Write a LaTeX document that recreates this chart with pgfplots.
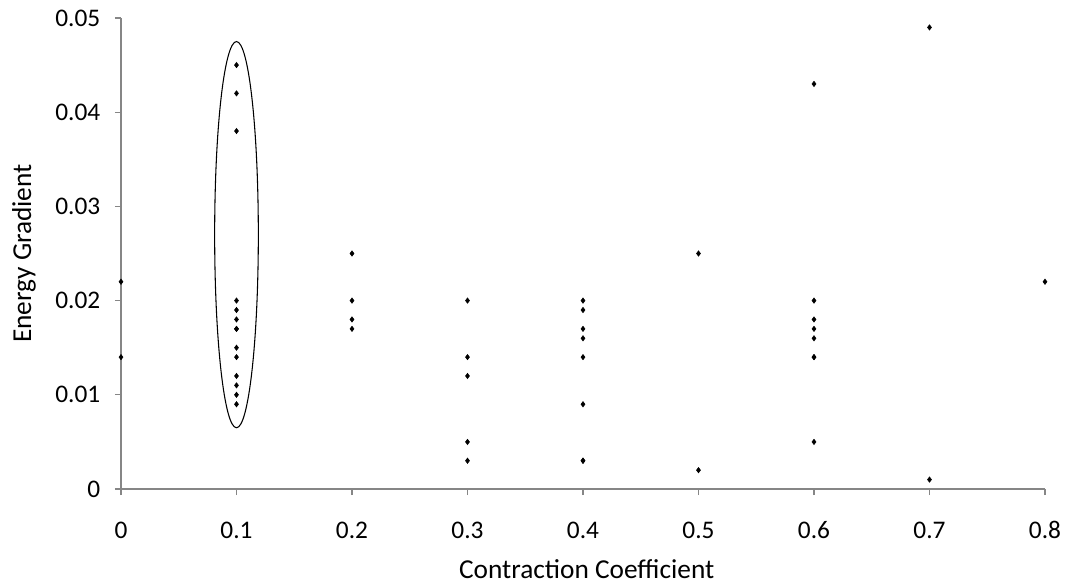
\documentclass[border=0pt]{standalone}
\usepackage{pgfplots}
\pgfplotsset{compat=1.18}
\usepackage{fontspec}
\setmainfont{Carlito}
\definecolor{axgray}{HTML}{868686}
\begin{document}
\fontsize{19pt}{23pt}\selectfont
\begin{tikzpicture}[x=1pt,y=1pt]
\useasboundingbox (-90.75,-73.5) rectangle (712.5,366.75);
\begin{axis}[
  at={(0,0)}, anchor=south west,
  scale only axis, width=693pt, height=353.25pt,
  xmin=0, xmax=0.8, ymin=0, ymax=0.05,
  scaled y ticks=false, scaled x ticks=false,
  axis x line=bottom, axis y line=left,
  axis line style={draw=axgray, line width=1.2pt, -},
  tick align=outside, major tick length=4.5pt,
  tick style={draw=axgray, line width=1pt},
  xtick={0,0.1,0.2,0.3,0.4,0.5,0.6,0.7,0.8},
  xticklabels={0,0.1,0.2,0.3,0.4,0.5,0.6,0.7,0.8},
  ytick={0,0.01,0.02,0.03,0.04,0.05},
  yticklabels={0,0.01,0.02,0.03,0.04,0.05},
  xticklabel style={font=\fontsize{19pt}{23pt}\selectfont, text height=0.64em, text depth=0pt, yshift=-14pt},
  yticklabel style={font=\fontsize{19pt}{23pt}\selectfont, xshift=-4.5pt},
  xlabel={Contraction Coefficient},
  ylabel={Energy Gradient},
  every axis x label/.style={at={(axis description cs:0.504,-0.17)}, anchor=center, font=\fontsize{20.5pt}{24pt}\selectfont},
  every axis y label/.style={at={(axis description cs:-0.105,0.5)}, rotate=90, anchor=center, font=\fontsize{20.5pt}{24pt}\selectfont},
  clip=false,
]
\addplot[only marks, mark=diamond*, mark size=2pt, black] coordinates {
(0,0.022) (0,0.014)
(0.1,0.045) (0.1,0.042) (0.1,0.038) (0.1,0.020) (0.1,0.019) (0.1,0.018) (0.1,0.017) (0.1,0.017) (0.1,0.015) (0.1,0.014) (0.1,0.012) (0.1,0.011) (0.1,0.010) (0.1,0.009)
(0.2,0.025) (0.2,0.020) (0.2,0.018) (0.2,0.017)
(0.3,0.020) (0.3,0.014) (0.3,0.012) (0.3,0.005) (0.3,0.003)
(0.4,0.020) (0.4,0.019) (0.4,0.017) (0.4,0.016) (0.4,0.014) (0.4,0.009) (0.4,0.003) (0.4,0.003)
(0.5,0.025) (0.5,0.002)
(0.6,0.043) (0.6,0.020) (0.6,0.018) (0.6,0.017) (0.6,0.016) (0.6,0.014) (0.6,0.014) (0.6,0.005)
(0.7,0.049) (0.7,0.001)
(0.8,0.022)
};
\draw[black, line width=0.8pt] (axis cs:0.1,0.027) ellipse [x radius=0.0189, y radius=0.0205];
\end{axis}
\end{tikzpicture}
\end{document}
